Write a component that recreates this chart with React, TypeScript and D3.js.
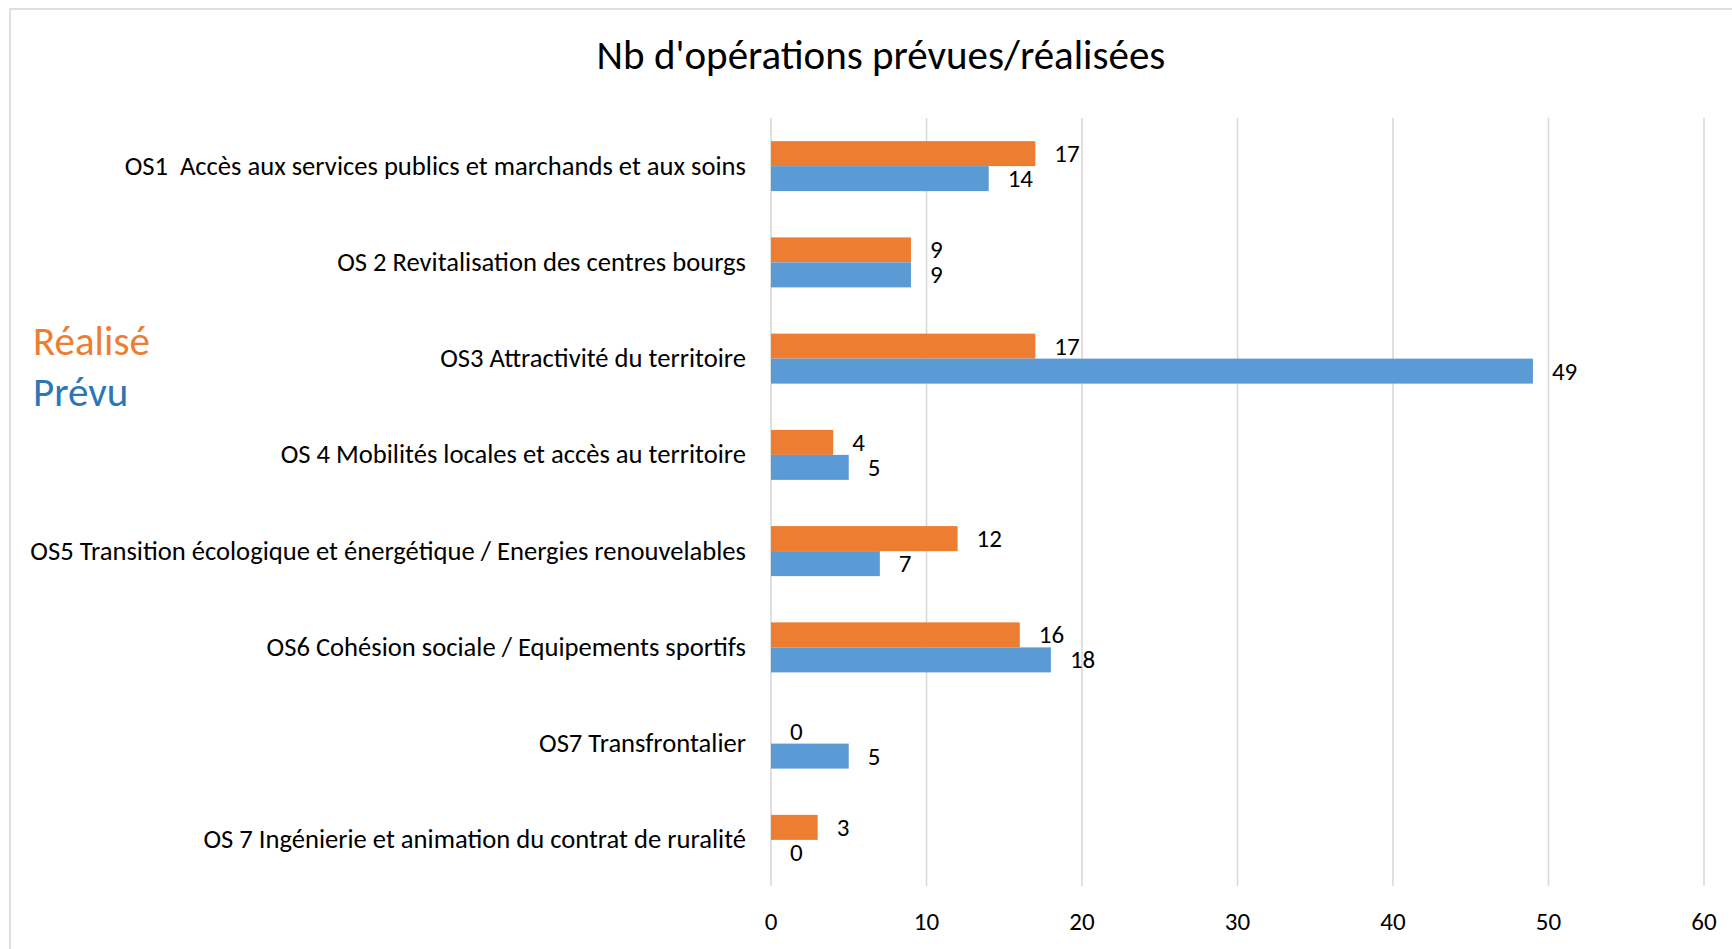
import React from "react";
import * as d3 from "d3";

const categories = [
  "OS1  Accès aux services publics et marchands et aux soins",
  "OS 2 Revitalisation des centres bourgs",
  "OS3 Attractivité du territoire",
  "OS 4 Mobilités locales et accès au territoire",
  "OS5 Transition écologique et énergétique / Energies renouvelables",
  "OS6 Cohésion sociale / Equipements sportifs",
  "OS7 Transfrontalier",
  "OS 7 Ingénierie et animation du contrat de ruralité",
];
const realise = [17, 9, 17, 4, 12, 16, 0, 3];
const prevu = [14, 9, 49, 5, 7, 18, 5, 0];
const xTicks = [0, 10, 20, 30, 40, 50, 60];
const seriesNames = ["Réalisé", "Prévu"];
const title = "Nb d'opérations prévues/réalisées";

const W = 1732;
const H = 949;
const FONT = "Carlito, Lato, 'Open Sans', sans-serif";
const ORANGE = "#ED7D31";
const BLUE = "#5B9BD5";
const GRID = "#D9D9D9";

export default function App() {
  const x = d3.scaleLinear().domain([0, 60]).range([771, 1704]);
  const y = d3
    .scaleBand<string>()
    .domain(categories)
    .range([118, 888])
    .paddingInner(0.4805)
    .paddingOuter(0.24025);
  const ys = d3
    .scaleBand<string>()
    .domain(seriesNames)
    .range([0, y.bandwidth()]);
  const series = [
    { name: "Réalisé", values: realise, color: ORANGE },
    { name: "Prévu", values: prevu, color: BLUE },
  ];
  const gridTop = 118;
  const gridBottom = 886;

  return (
    <svg
      width={W}
      height={H}
      style={{ position: "absolute", left: 0, top: 0, background: "#fff" }}
      fontFamily={FONT}
    >
      <rect x={0} y={0} width={W} height={H} fill="#fff" />
      <rect
        x={10}
        y={9}
        width={W + 20}
        height={H + 20}
        fill="#fff"
        stroke={GRID}
        strokeWidth={1.6}
      />
      <text x={881} y={69} textAnchor="middle" fontSize={41} fill="#000">
        {title}
      </text>
      {xTicks.map((t) => (
        <g key={t}>
          <line
            x1={x(t)}
            x2={x(t)}
            y1={gridTop}
            y2={gridBottom}
            stroke={GRID}
            strokeWidth={1.6}
          />
          <text x={x(t)} y={930} textAnchor="middle" fontSize={25} fill="#000">
            {t}
          </text>
        </g>
      ))}
      {categories.map((c) => (
        <text
          key={c}
          x={746}
          y={(y(c) as number) + y.bandwidth() / 2 + 8.5}
          textAnchor="end"
          fontSize={26.6}
          fill="#000"
          style={{ whiteSpace: "pre" }}
        >
          {c}
        </text>
      ))}
      {series.map((s) =>
        categories.map((c, i) => {
          const by = (y(c) as number) + (ys(s.name) as number);
          const v = s.values[i];
          return (
            <g key={s.name + c}>
              {v > 0 && (
                <rect
                  x={x(0)}
                  y={by}
                  width={x(v) - x(0)}
                  height={ys.bandwidth()}
                  fill={s.color}
                />
              )}
              <text
                x={x(v) + 19}
                y={by + ys.bandwidth() / 2 + 8.5}
                fontSize={25}
                fill="#000"
              >
                {v}
              </text>
            </g>
          );
        })
      )}
      <text x={33} y={355} fontSize={41} fill={ORANGE}>
        Réalisé
      </text>
      <text x={33} y={406} fontSize={41} fill="#2E75B6">
        Prévu
      </text>
    </svg>
  );
}
